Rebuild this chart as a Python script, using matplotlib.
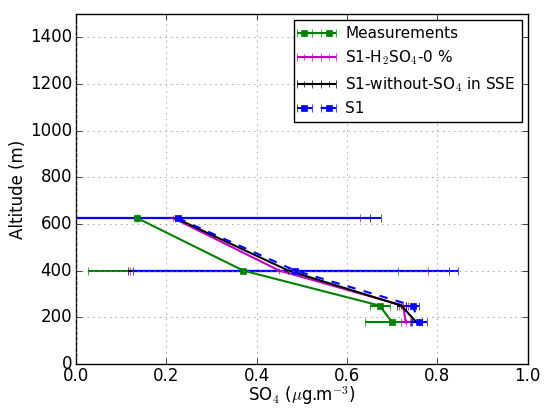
import matplotlib
matplotlib.use('Agg')
import matplotlib.pyplot as plt

# Altitude levels (m)
alt = [625, 400, 250, 178]

# SO4 concentrations (ug/m3) per series
meas = [0.135, 0.37, 0.672, 0.70]
meas_err = [0.0, 0.343, 0.022, 0.06]

h2so4 = [0.215, 0.45, 0.724, 0.73]
h2so4_err = [0.413, 0.33, 0.01, 0.01]

no_sse = [0.22, 0.47, 0.72, 0.754]
no_sse_err = [0.43, 0.355, 0.01, 0.012]

s1 = [0.225, 0.485, 0.745, 0.76]
s1_err = [0.45, 0.36, 0.015, 0.017]

plt.style.use('classic')
plt.rcParams['font.family'] = ['DejaVu Sans']

fig = plt.figure(figsize=(5.44, 4.08), dpi=100, facecolor='white')
ax = fig.add_axes([0.14, 0.108, 0.83, 0.858])

ax.errorbar(meas, alt, xerr=meas_err, color='green', marker='s', ms=5,
            mec='green', lw=1.5, label='Measurements')
ax.errorbar(h2so4, alt, xerr=h2so4_err, color='m', marker='+', ms=5,
            mec='m', lw=1.5, label='S1-H$_2$SO$_4$-0 %')
ax.errorbar(no_sse, alt, xerr=no_sse_err, color='k', marker='+', ms=5,
            mec='k', lw=1.5, label='S1-without-SO$_4$ in SSE')
ax.errorbar(s1, alt, xerr=s1_err, color='b', marker='s', ms=5,
            mec='b', lw=1.5, ls='--', label='S1')

ax.set_xlim(0, 1.0)
ax.set_ylim(0, 1500)
ax.set_yticks(range(0, 1401, 200))
ax.set_xticks([0.0, 0.2, 0.4, 0.6, 0.8, 1.0])
ax.tick_params(axis='x', pad=2)
ax.tick_params(axis='y', pad=3)
ax.grid(True, color='gray', linestyle=':')
ax.set_xlabel(r'SO$_4$ ($\mu$g.m$^{-3}$)', labelpad=0)
ax.set_ylabel('Altitude (m)', labelpad=2)
ax.legend(loc='upper right', fontsize=11, numpoints=2, handlelength=2.2,
          borderaxespad=0.4)

fig.savefig('out.png', dpi=100, facecolor='white')
